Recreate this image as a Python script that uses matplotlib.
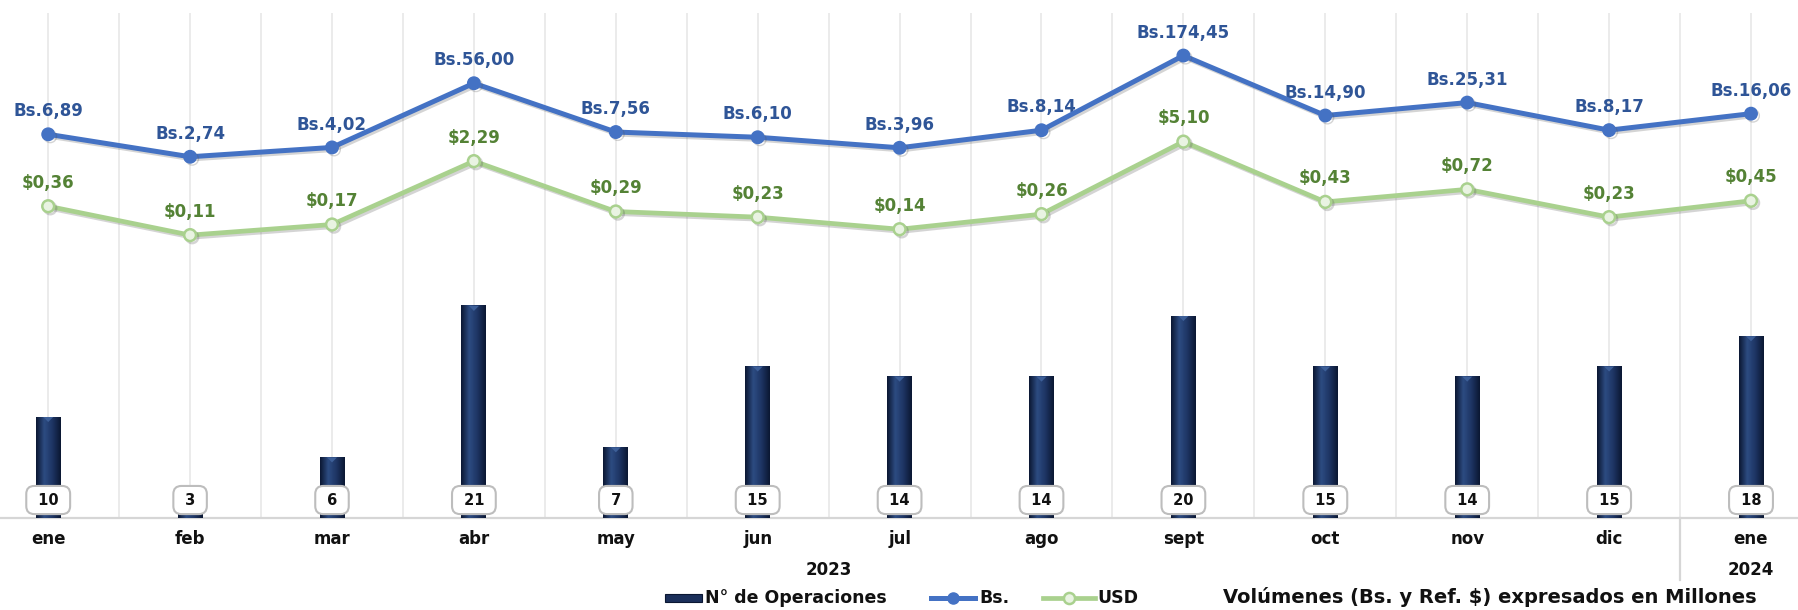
import numpy as np
import matplotlib
matplotlib.use("Agg")
import matplotlib.pyplot as plt
import matplotlib.patheffects as pe
from matplotlib.colors import LinearSegmentedColormap
from matplotlib.transforms import blended_transform_factory
from matplotlib.lines import Line2D
from matplotlib.patches import Rectangle

# === datos ===
meses = ["ene", "feb", "mar", "abr", "may", "jun", "jul", "ago", "sept", "oct", "nov", "dic", "ene"]
anios = ["2023", "2024"]
meses_por_anio = [12, 1]
operaciones = [10, 3, 6, 21, 7, 15, 14, 14, 20, 15, 14, 15, 18]
vol_bs = [6.89, 2.74, 4.02, 56.00, 7.56, 6.10, 3.96, 8.14, 174.45, 14.90, 25.31, 8.17, 16.06]
vol_usd = [0.36, 0.11, 0.17, 2.29, 0.29, 0.23, 0.14, 0.26, 5.10, 0.43, 0.72, 0.23, 0.45]

W, H = 1798, 610
C_BS = "#4472c4"
C_BS_TXT = "#2f5597"
C_USD = "#a9d18e"
C_USD_TXT = "#548235"
C_GRID = "#e7e7e7"
C_AXIS = "#d6d6d6"
C_BAR = "#1b2f5a"

plt.rcParams["font.family"] = ["DejaVu Sans"]
plt.rcParams["font.weight"] = "bold"

def fy(px):
    # pixel (desde arriba) -> fraccion de figura
    return 1 - px / H

def fx(px):
    return px / W

fig = plt.figure(figsize=(W / 100, H / 100), dpi=100)
top_px, bot_px = 13, 518
ax = fig.add_axes([0, fy(bot_px), 1, fy(top_px) - fy(bot_px)])
x = np.arange(len(meses))
x0 = 48.2 / 141.9
xlim = (-x0, (W - 48.2) / 141.9)
for s in ax.spines.values():
    s.set_visible(False)
ax.set_xticks([])
ax.set_yticks([])

# grid vertical
for g in np.arange(-0.5, len(meses) + 0.5, 0.5):
    ax.axvline(g, color=C_GRID, lw=1.2, zorder=0)
ax.axhline(0, color=C_AXIS, lw=1.6, zorder=1, clip_on=False)

# barras con degradado
bars = ax.bar(x, operaciones, width=0.176, color=C_BAR, zorder=2)
bar_cmap = LinearSegmentedColormap.from_list("barra", ["#0b1732", "#2d4c82", "#1d3463", "#0b1732"])
grad = np.linspace(0, 1, 64).reshape(1, -1)
for b in bars:
    bx, by, bw, bh = b.get_x(), b.get_y(), b.get_width(), b.get_height()
    ax.imshow(grad, cmap=bar_cmap, extent=(bx, bx + bw, by, by + bh),
              aspect="auto", zorder=2.1, interpolation="bicubic")
    ax.fill([bx + bw * 0.3, bx + bw * 0.7, bx + bw * 0.5], [by + bh, by + bh, by + bh - 0.5],
            color="#3d5f98", zorder=2.2, lw=0)
ax.set_xlim(xlim)
ax.set_ylim(0, 50)

# etiquetas de operaciones
for i, v in enumerate(operaciones):
    ax.text(i, 1.78, f" {v} ", ha="center", va="center", fontsize=10.5, fontweight="bold",
            color="#111111", zorder=5,
            bbox=dict(boxstyle="round,pad=0.45,rounding_size=0.55", fc="white", ec="#bdbdbd", lw=1.5))

# lineas (eje secundario log)
ax2 = ax.twinx()
ax2.set_yscale("log")
ax2.set_ylim(1e-6, 1e3)
ax2.set_xlim(xlim)
for s in ax2.spines.values():
    s.set_visible(False)
ax2.yaxis.set_visible(False)

shadow = [pe.SimpleLineShadow(offset=(1.5, -1.5), alpha=0.25, shadow_color="#555555"), pe.Normal()]
ax2.plot(x, vol_bs, color=C_BS, lw=3.6, marker="o", ms=9, mfc=C_BS, mec=C_BS,
         zorder=4, path_effects=shadow, solid_joinstyle="round")
ax2.plot(x, vol_usd, color=C_USD, lw=3.4, marker="o", ms=8.5, mfc="#e9f3e2", mec=C_USD, mew=1.8,
         zorder=4, path_effects=shadow, solid_joinstyle="round")

for i, v in enumerate(vol_bs):
    ax2.annotate("Bs." + f"{v:.2f}".replace(".", ","), (i, v), xytext=(0, 16.5),
                 textcoords="offset points", ha="center", va="center",
                 fontsize=12, fontweight="bold", color=C_BS_TXT)
for i, v in enumerate(vol_usd):
    ax2.annotate("$" + f"{v:.2f}".replace(".", ","), (i, v), xytext=(0, 17),
                 textcoords="offset points", ha="center", va="center",
                 fontsize=12, fontweight="bold", color=C_USD_TXT)

# eje x: meses y anios
tr = blended_transform_factory(ax.transData, fig.transFigure)
for i, m in enumerate(meses):
    ax.text(i, fy(539), m, transform=tr, ha="center", va="center",
            fontsize=12, fontweight="bold", color="#111111")
start = 0
for a, n in zip(anios, meses_por_anio):
    ax.text(start + (n - 1) / 2, fy(570), a, transform=tr, ha="center", va="center",
            fontsize=12, fontweight="bold", color="#111111")
    start += n
ax.add_line(Line2D([11.5, 11.5], [fy(518), fy(580)], transform=tr, color=C_AXIS,
                   lw=1.6, clip_on=False))

# leyenda (a mano, en pixeles de figura)
ly = 598
fig.patches.append(Rectangle((fx(665), fy(ly + 4)), fx(702) - fx(665), fy(ly - 4) - fy(ly + 4),
                             transform=fig.transFigure, fc=C_BAR, ec="#0b1732", lw=0.8))
fig.text(fx(705), fy(ly), "N° de Operaciones", ha="left", va="center",
         fontsize=12.5, fontweight="bold", color="#111111")
fig.add_artist(Line2D([fx(931), fx(975)], [fy(ly), fy(ly)], color=C_BS, lw=3.6))
fig.add_artist(Line2D([fx(953)], [fy(ly)], color=C_BS, marker="o", ms=8, mfc=C_BS, mec=C_BS))
fig.text(fx(979), fy(ly), "Bs.", ha="left", va="center",
         fontsize=12.5, fontweight="bold", color="#111111")
fig.add_artist(Line2D([fx(1043), fx(1095)], [fy(ly), fy(ly)], color=C_USD, lw=3.4))
fig.add_artist(Line2D([fx(1069)], [fy(ly)], color=C_USD, marker="o", ms=8,
                      mfc="#e9f3e2", mec=C_USD, mew=1.8))
fig.text(fx(1097), fy(ly), "USD", ha="left", va="center",
         fontsize=12.5, fontweight="bold", color="#111111")

fig.text(fx(1490), fy(597), "Volúmenes (Bs. y Ref. $) expresados en Millones",
         ha="center", va="center", fontsize=14, fontweight="bold", color="#111111")

fig.savefig("out.png", dpi=100)
